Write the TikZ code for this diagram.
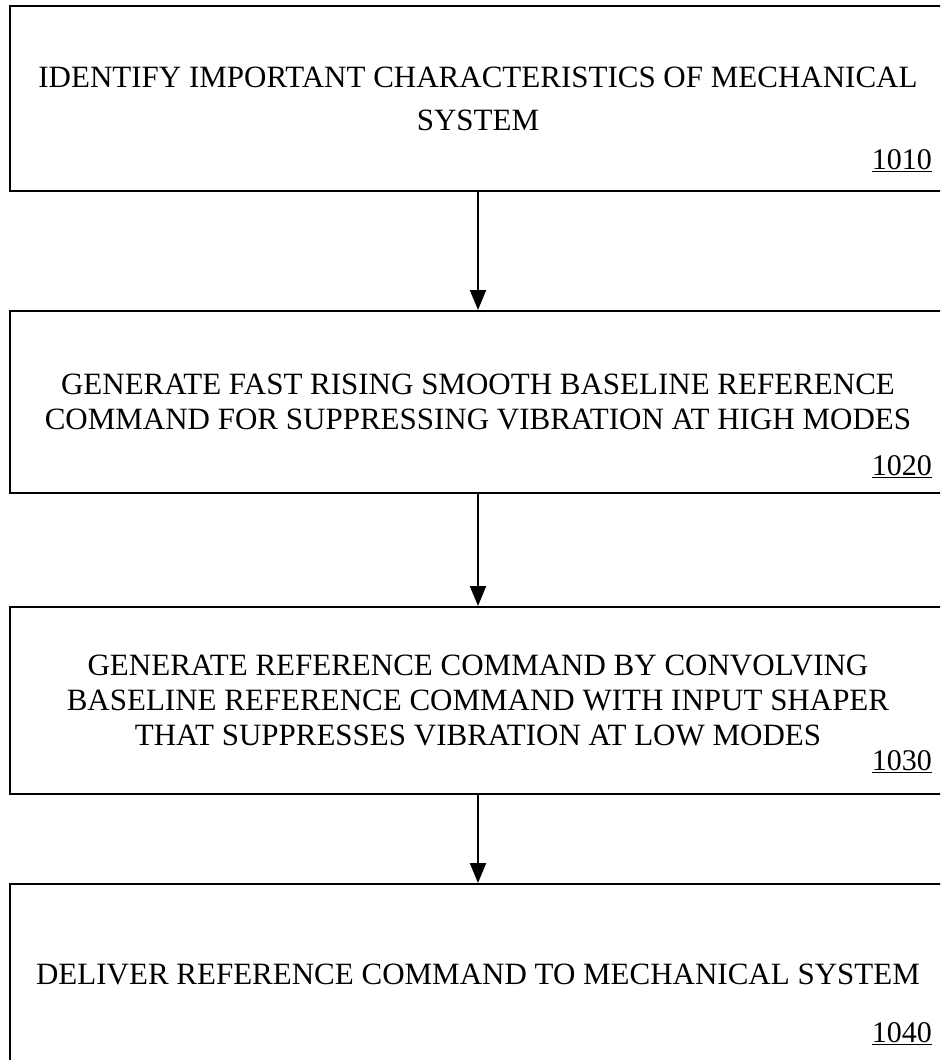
\documentclass[tikz,border=0pt]{standalone}
\usepackage{fontspec}
\setmainfont{Liberation Serif}
\usepackage{tikz}
\usetikzlibrary{arrows.meta,positioning}

\begin{document}
\begin{tikzpicture}[
    x=1pt, y=-1pt,
    stepbox/.style={rectangle, draw, line width=2pt, minimum width=936pt, align=center, font=\fontsize{31}{35}\selectfont, inner sep=0pt},
    arrow/.style={-{Triangle[length=20pt,width=16pt]}, line width=2pt},
    refnum/.style={font=\fontsize{30}{34}\selectfont, inner sep=0pt}
]
\useasboundingbox (0,0) rectangle (940,1060);
\clip (0,0) rectangle (940,1060);

% Step 1
\node[stepbox, minimum height=185pt] (identify) at (478,98.5) {IDENTIFY IMPORTANT CHARACTERISTICS OF MECHANICAL\\[8pt]SYSTEM};
\node[refnum, above left=20pt and 15pt of identify.south east] {\underline{1010}};

% Step 2
\node[stepbox, minimum height=182pt, below=118pt of identify] (baseline) {GENERATE FAST RISING SMOOTH BASELINE REFERENCE\\COMMAND FOR SUPPRESSING VIBRATION AT HIGH MODES};
\node[refnum, above left=16pt and 15pt of baseline.south east] {\underline{1020}};

% Step 3
\node[stepbox, minimum height=187pt, below=112pt of baseline] (convolve) {GENERATE REFERENCE COMMAND BY CONVOLVING\\BASELINE REFERENCE COMMAND WITH INPUT SHAPER\\THAT SUPPRESSES VIBRATION AT LOW MODES};
\node[refnum, above left=22pt and 15pt of convolve.south east] {\underline{1030}};

% Step 4
\node[stepbox, minimum height=180pt, below=88pt of convolve] (deliver) {DELIVER REFERENCE COMMAND TO MECHANICAL SYSTEM};
\node[refnum, above left=20pt and 15pt of deliver.south east] {\underline{1040}};

% Arrows
\draw[arrow] (identify) -- (baseline);
\draw[arrow] (baseline) -- (convolve);
\draw[arrow] (convolve) -- (deliver);

\end{tikzpicture}
\end{document}
